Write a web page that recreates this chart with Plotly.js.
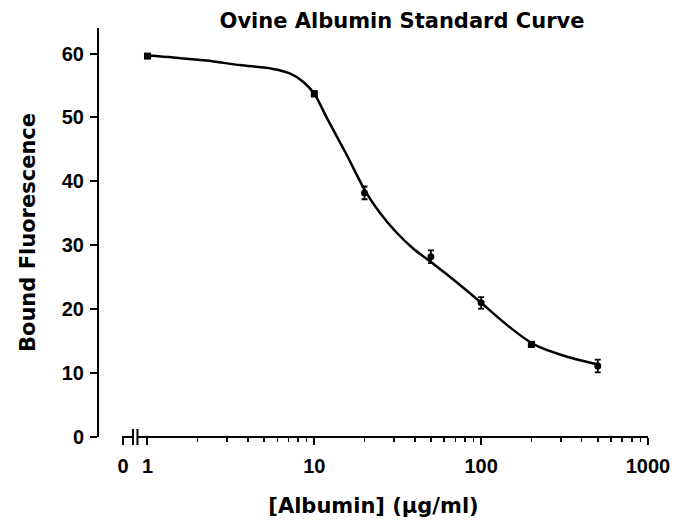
<!DOCTYPE html>
<html>
<head>
<meta charset="utf-8">
<script src="https://cdn.plot.ly/plotly-3.0.1.min.js"></script>
<style>html,body{margin:0;padding:0;background:#fff;}#chart{width:677px;height:526px;}</style>
</head>
<body>
<div id="chart"></div>
<script>
// Measured points (mean ± error)
const albumin = [1, 10, 20, 50, 100, 200, 500];
const fluorescence = [59.6, 53.7, 38.2, 28.2, 21.0, 14.5, 11.1];
const errors = [0.3, 0.4, 1.0, 1.0, 0.9, 0.4, 1.0];

// Fitted curve
const curveX = [1, 1.43, 2.26, 3.58, 5.67, 7.13, 8.57, 10, 11.8, 15.6, 20.3, 24.7, 31.1, 39.1, 50.5, 61.9, 77.8, 98, 148, 207, 324, 513];
const curveY = [59.7, 59.4, 58.9, 58.2, 57.6, 56.9, 55.6, 53.7, 50.1, 44.2, 38.4, 35.1, 32.0, 29.5, 27.3, 25.5, 23.4, 21.2, 17.2, 14.5, 12.6, 11.3];

// Axis ticks
const yTicks = [0, 10, 20, 30, 40, 50, 60];
const xMajorVals = [0.713, 1, 10, 100, 1000];
const xMajorText = ['0', '1', '10', '100', '1000'];
const xMinorVals = [2,3,4,5,6,7,8,9,20,30,40,50,60,70,80,90,200,300,400,500,600,700,800,900];

const TICKFONT = 'Liberation Sans, Arial, Helvetica, sans-serif';
const TITLEFONT = 'DejaVu Sans, Verdana, sans-serif';

const traces = [
  {
    x: curveX, y: curveY, type: 'scatter', mode: 'lines',
    line: {color: '#000', width: 2.5, shape: 'spline', smoothing: 0.8},
    hoverinfo: 'skip', showlegend: false
  },
  {
    x: albumin, y: fluorescence, type: 'scatter', mode: 'markers',
    marker: {symbol: ['square', 'square', 'circle', 'circle', 'circle', 'square', 'circle'], size: 7, color: '#000'},
    error_y: {type: 'data', array: errors, visible: true, color: '#000', thickness: 1.8, width: 3},
    showlegend: false
  }
];

// Broken x axis line (decoration in paper coords)
const L = 99, R = 648.5, W = R - L, H = 409;
const px = p => (p - L) / W;
const dy = d => d / H;
const axisLine = {color: '#000', width: 2};
const shapes = [
  {type: 'line', xref: 'paper', yref: 'paper', x0: px(122), x1: px(133), y0: 0, y1: 0, line: axisLine},
  {type: 'line', xref: 'paper', yref: 'paper', x0: px(133), x1: px(133), y0: dy(-8), y1: dy(8), line: axisLine},
  {type: 'line', xref: 'paper', yref: 'paper', x0: px(137.5), x1: px(137.5), y0: dy(-8), y1: dy(8), line: axisLine},
  {type: 'line', xref: 'paper', yref: 'paper', x0: px(137.5), x1: 1, y0: 0, y1: 0, line: axisLine}
];

const layout = {
  width: 677, height: 526,
  margin: {l: L, r: 677 - R, t: 28, b: 89},
  paper_bgcolor: '#fff', plot_bgcolor: '#fff',
  font: {family: TICKFONT, color: '#000', size: 18, weight: 'bold'},
  title: {
    text: 'Ovine Albumin Standard Curve',
    font: {family: TITLEFONT, size: 21, color: '#000', weight: 'bold'},
    x: 402 / 677, xref: 'container', xanchor: 'center',
    y: 1 - 21 / 526, yref: 'container', yanchor: 'middle'
  },
  xaxis: {
    type: 'log', range: [-0.2904, 3.0],
    showline: false, showgrid: false, zeroline: false,
    tickmode: 'array', tickvals: xMajorVals, ticktext: xMajorText,
    ticks: 'outside', ticklen: 7, tickwidth: 2, tickcolor: '#000',
    ticklabelstandoff: 4,
    tickfont: {family: TICKFONT, size: 20, color: '#000', weight: 'bold'},
    minor: {tickmode: 'array', tickvals: xMinorVals, ticks: 'outside', ticklen: 4, tickwidth: 1.5, tickcolor: '#000', showgrid: false},
    title: {text: '[Albumin] (μg/ml)', font: {family: TITLEFONT, size: 21, color: '#000', weight: 'bold'}, standoff: 22}
  },
  yaxis: {
    range: [0, 64], showline: true, linewidth: 2, linecolor: '#000',
    showgrid: false, zeroline: false,
    tickmode: 'array', tickvals: yTicks,
    ticks: 'outside', ticklen: 7, tickwidth: 2, tickcolor: '#000',
    ticklabelstandoff: 2,
    tickfont: {family: TICKFONT, size: 20, color: '#000', weight: 'bold'},
    title: {text: 'Bound Fluorescence', font: {family: TITLEFONT, size: 21, color: '#000', weight: 'bold'}, standoff: 20}
  },
  shapes: shapes
};

Plotly.newPlot('chart', traces, layout, {displayModeBar: false, staticPlot: true});
</script>
</body>
</html>
